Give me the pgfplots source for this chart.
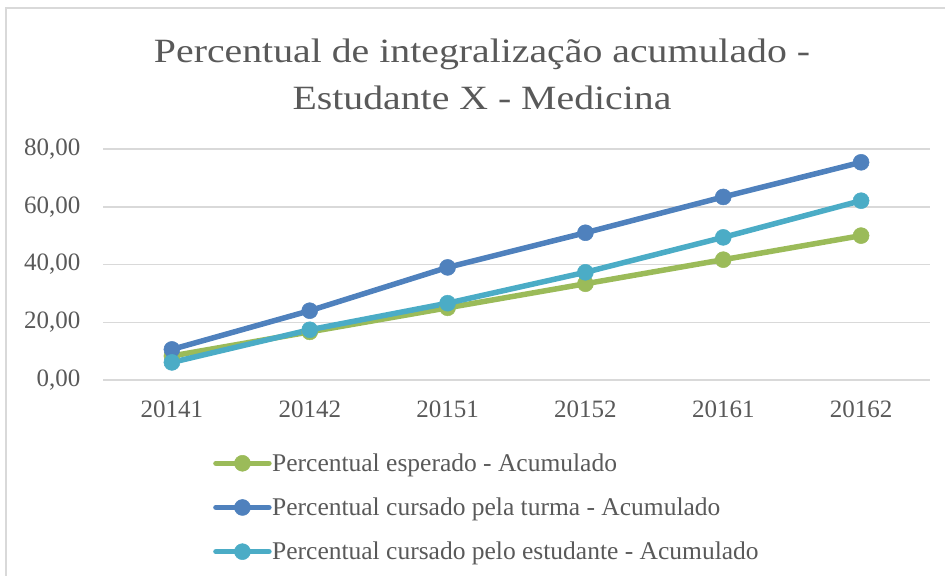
\documentclass[border=0pt]{standalone}
\usepackage{pgfplots}
\pgfplotsset{compat=1.18}
\usepackage{fontspec}
\setmainfont{Liberation Serif}
\newfontfamily\titlefont[FakeStretch=1.17]{Liberation Serif}
\definecolor{cgreen}{HTML}{9BBB59}
\definecolor{cblue}{HTML}{4F81BD}
\definecolor{ccyan}{HTML}{4BACC6}
\definecolor{ctext}{HTML}{595959}
\definecolor{cgrid}{HTML}{D9D9D9}
\begin{document}
\begin{tikzpicture}
\useasboundingbox (0,0) rectangle (945bp,576bp);
\draw[cgrid, line width=1.5bp] (6bp,0) -- (6bp,568bp) -- (945bp,568bp);
\node[text=ctext, align=center, font=\titlefont\fontsize{34bp}{47bp}\selectfont] at (482bp,502bp)
  {Percentual de integralização acumulado -\\Estudante X - Medicina};
\begin{axis}[
  at={(103bp,196bp)}, anchor=south west,
  scale only axis, width=827bp, height=231bp,
  xmin=-0.5, xmax=5.5, ymin=0, ymax=80,
  xtick={0,1,2,3,4,5},
  xticklabels={20141,20142,20151,20152,20161,20162},
  ytick={0,20,40,60,80},
  ymajorgrids, grid style={cgrid, line width=1.5bp},
  axis line style={draw=none},
  major tick length=0pt,
  tick label style={text=ctext, font=\fontsize{25bp}{28bp}\selectfont},
  xticklabel style={yshift=-17bp},
  yticklabel style={xshift=-19bp},
  /pgf/number format/.cd, fixed, fixed zerofill, precision=2, use comma, assume math mode=true,
  /pgfplots/.cd,
  clip=false,
  every axis plot/.append style={line width=5.5bp, line join=round, mark=*, mark size=8bp, mark options={line width=0.5bp}},
  legend cell align=left,
  legend image code/.code={\draw[mark repeat=2,mark phase=2,line cap=round,#1] plot coordinates {(2bp,0bp)(28.5bp,0bp)(55bp,0bp)};},
  legend style={at={(axis description cs:0.133,-0.316)}, anchor=north west, draw=none, fill=none,
    inner sep=0pt, row sep=24bp,
    font=\fontsize{25.5bp}{28bp}\selectfont, text=ctext,
    /tikz/every even column/.style={column sep=0bp},
    nodes={inner sep=0.5bp}},
]
\addplot[cgreen] coordinates {(0,8.33)(1,16.67)(2,25.0)(3,33.33)(4,41.67)(5,50.0)};
\addlegendentry{Percentual esperado - Acumulado}
\addplot[cblue] coordinates {(0,10.6)(1,24.0)(2,39.0)(3,51.0)(4,63.4)(5,75.4)};
\addlegendentry{Percentual cursado pela turma - Acumulado}
\addplot[ccyan] coordinates {(0,6.1)(1,17.4)(2,26.6)(3,37.3)(4,49.4)(5,62.1)};
\addlegendentry{Percentual cursado pelo estudante - Acumulado}
\end{axis}
\end{tikzpicture}
\end{document}
